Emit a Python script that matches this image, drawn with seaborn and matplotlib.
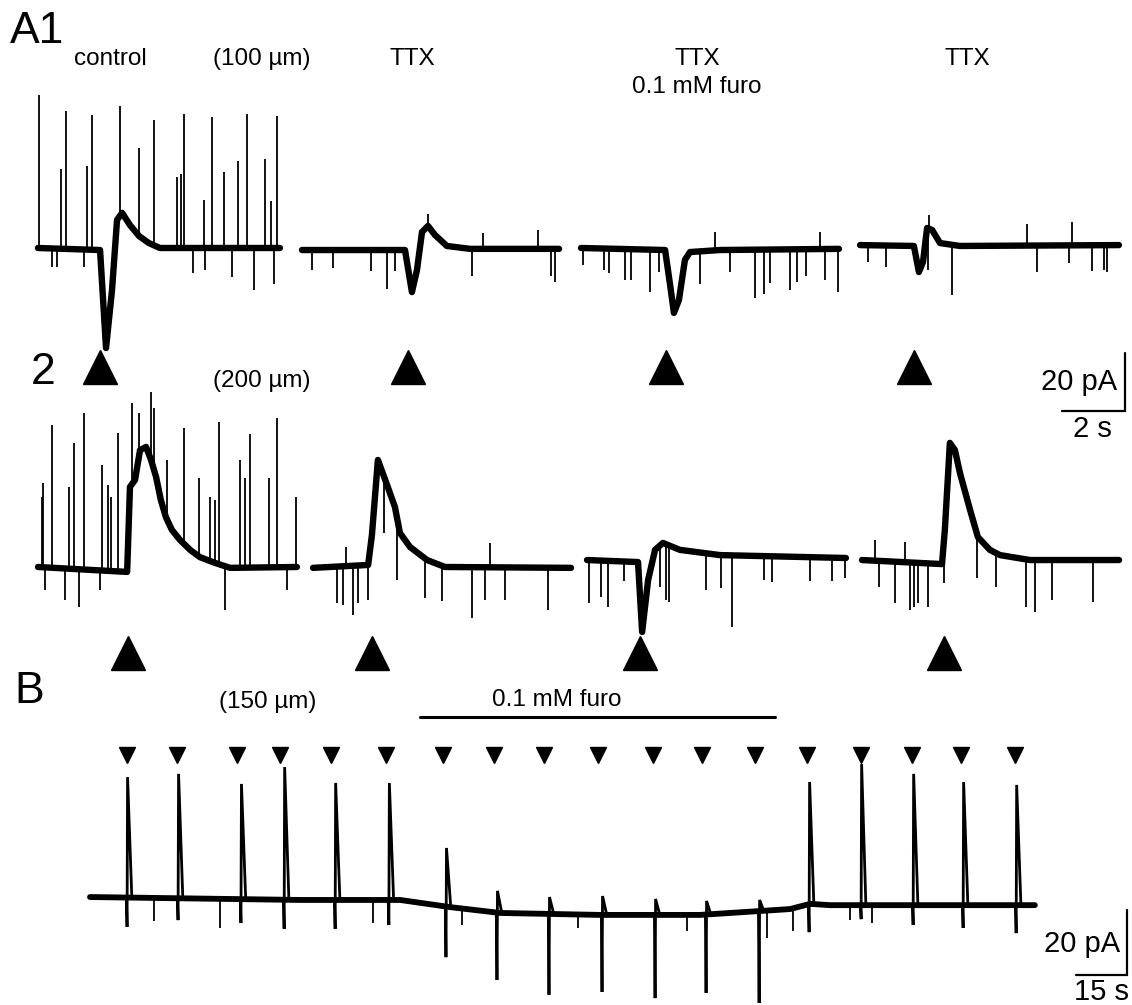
import numpy as np
import matplotlib
matplotlib.use("Agg")
import matplotlib.pyplot as plt
import seaborn as sns

sns.set_style("white")
plt.rcParams["font.family"] = ["Liberation Sans", "DejaVu Sans"]
plt.rcParams["text.color"] = "black"

# ---------------- DATA (time in s from sweep start, current in pA rel. baseline) ----
# A1 (100 µm) — slow component, upward spikes, downward spikes
a1_ctrl_slow = [(0, 0), (1.97, -0.7), (2.16, -34.5), (2.35, -14.5), (2.51, 9.7), (2.67, 12.1),
                (2.92, 7.9), (3.21, 4.1), (3.52, 1.7), (3.87, 0), (7.68, 0)]
a1_ctrl_up = [(0.02, 52.8), (0.73, 27.2), (0.89, 47.2), (1.56, 28.3), (1.71, 45.9), (2.60, 49.0),
              (3.21, 34.5), (3.68, 44.1), (4.41, 24.5), (4.54, 25.5), (4.63, 46.2), (5.27, 16.6),
              (5.52, 45.2), (5.90, 26.2), (6.35, 30.0), (6.63, 46.2), (7.21, 30.7), (7.40, 16.2),
              (7.59, 45.5)]
a1_ctrl_down = [(0.44, -6.6), (0.60, -6.6), (1.46, -6.6), (4.92, -8.6), (5.30, -7.6), (6.16, -10.0),
                (6.86, -14.5), (7.49, -12.4)]

a1_ttx_slow = [(0, -0.7), (3.27, -0.7), (3.49, -15.2), (3.65, -7.6), (3.81, 5.5), (4.0, 7.6),
               (4.22, 4.5), (4.60, 0.7), (5.33, -0.3), (8.16, -0.3)]
a1_ttx_up = [(4.0, 11.7), (5.75, 5.2), (7.49, 6.2)]
a1_ttx_down = [(0.32, -7.6), (0.98, -6.9), (2.19, -7.9), (2.70, -14.1), (2.95, -7.9), (5.40, -9.7),
               (7.90, -9.7), (8.03, -11.7)]

a1_furo_slow = [(0, 0), (2.67, -0.7), (2.83, -12.8), (2.95, -22.4), (3.11, -17.9), (3.30, -4.1),
                (3.46, -1.4), (4.41, -0.7), (8.19, -0.3)]
a1_furo_up = [(4.25, 5.5), (7.59, 5.5)]
a1_furo_down = [(0.06, -5.9), (0.73, -7.6), (0.89, -8.6), (1.40, -11.0), (1.59, -11.0), (2.19, -15.2),
                (2.48, -8.3), (3.78, -12.4), (4.73, -8.3), (5.52, -17.2), (5.81, -15.9), (6.0, -12.1),
                (6.63, -14.5), (6.86, -11.7), (7.14, -9.7), (7.75, -11.0), (8.16, -15.2)]

a1_wash_slow = [(0, 1.0), (1.71, 0.7), (1.87, -8.3), (2.0, -4.8), (2.13, 6.9), (2.29, 6.2),
                (2.54, 1.7), (3.17, 0.7), (8.22, 1.0)]
a1_wash_up = [(2.19, 11.4), (5.30, 8.3), (6.73, 9.0)]
a1_wash_down = [(0.25, -4.8), (0.83, -6.6), (2.16, -7.6), (2.92, -16.2), (5.62, -8.3), (6.63, -5.2),
                (7.37, -7.9), (7.75, -7.6), (7.84, -8.3)]

a1_stim = [1.97, 3.37, 2.70, 1.71]

# A2 (200 µm)
a2_ctrl_slow = [(0, 0), (2.83, -1.7), (2.92, 27.6), (3.08, 30.0), (3.24, 40.3), (3.43, 41.4),
                (3.59, 36.9), (3.75, 31.0), (3.90, 23.1), (4.06, 17.2), (4.25, 12.8), (4.51, 9.3),
                (4.83, 5.9), (5.14, 3.4), (5.62, 1.4), (6.10, -0.3), (8.22, 0)]
a2_ctrl_up = [(0.13, 24.1), (0.16, 29.0), (0.44, 49.0), (0.98, 27.6), (1.14, 42.8), (1.46, 53.1),
              (2.03, 35.2), (2.22, 28.3), (2.32, 24.1), (2.54, 46.2), (2.98, 56.6), (3.21, 53.1),
              (3.59, 60.3), (3.68, 54.8), (4.10, 36.9), (4.63, 47.9), (5.11, 30.7), (5.46, 24.1),
              (5.62, 23.1), (5.75, 50.0), (6.41, 36.9), (6.57, 30.7), (6.73, 45.9), (7.33, 30.7),
              (7.59, 51.4), (8.19, 24.1)]
a2_ctrl_down = [(0.22, -7.9), (0.86, -11.4), (1.30, -13.8), (1.97, -7.9), (5.94, -14.8), (7.90, -7.9)]

a2_ttx_slow = [(0, -0.3), (1.75, 0.7), (1.87, 11.0), (2.06, 36.9), (2.35, 28.3), (2.60, 20.7),
               (2.76, 11.7), (3.08, 6.9), (3.62, 2.4), (4.19, 0), (8.19, -0.3)]
a2_ttx_up = [(1.05, 6.9), (5.62, 8.3)]
a2_ttx_down = [(0.76, -12.4), (0.95, -13.1), (1.27, -16.6), (1.43, -12.4), (1.75, -11.4), (2.25, 11.7),
               (2.67, -4.5), (3.56, -10.7), (4.10, -11.7), (5.05, -17.6), (5.46, -11.4), (6.10, -11.4),
               (7.46, -14.8)]

a2_furo_slow = [(0, 2.4), (1.62, 1.7), (1.75, -22.4), (1.94, -4.5), (2.16, 5.9), (2.41, 8.3),
                (2.95, 5.9), (4.22, 4.1), (8.22, 3.1)]
a2_furo_up = []
a2_furo_down = [(0.06, -12.4), (0.44, -10.3), (0.67, -13.8), (1.17, -4.8), (2.32, -6.9), (2.51, -11.4),
                (2.60, -12.1), (3.78, -7.9), (4.25, -7.2), (4.60, -20.7), (5.62, -4.5), (5.87, -5.2),
                (7.08, -4.8), (7.78, -4.8), (8.19, -3.8)]

a2_wash_slow = [(0, 2.4), (2.54, 1.0), (2.63, 12.8), (2.79, 42.8), (2.95, 40.3), (3.11, 32.4),
                (3.43, 19.7), (3.68, 10.3), (4.06, 5.9), (4.38, 4.1), (5.33, 2.4), (8.16, 2.4)]
a2_wash_up = [(0.41, 9.3), (1.37, 8.6)]
a2_wash_down = [(0.54, -6.9), (1.05, -12.4), (1.52, -14.8), (1.65, -13.8), (1.78, -12.4), (2.10, -13.8),
                (2.60, -5.5), (3.65, -3.8), (4.25, -6.9), (5.21, -13.8), (5.49, -15.5), (6.03, -11.4),
                (7.33, -12.1)]

a2_stim = [2.86, 1.87, 1.68, 2.60]

# B (150 µm), time in s
b_baseline = [(0, 0.3), (61.8, -0.6), (91.2, -0.6), (105.9, -2.8), (120.6, -4.6), (150, -5.2),
              (179.4, -5.2), (197.1, -4.0), (205.9, -3.4), (211.8, -1.8), (217.6, -2.2), (277.9, -2.2)]
b_resp_t = [10.9, 25.9, 44.4, 57.1, 72.1, 87.9, 104.7, 119.7, 135.0, 150.6, 166.2, 181.2, 196.8,
            211.5, 226.8, 242.1, 256.8, 272.4]
b_resp_peak = [37.2, 38.2, 35.1, 40.3, 35.4, 35.4, 15.4, 2.2, 0.3, 0.6, -0.3, -0.9, -0.6,
               35.7, 41.2, 38.2, 35.7, 34.8]
b_resp_trough = [-8.9, -6.8, -7.7, -9.5, -9.5, -8.3, -18.2, -25.2, -29.8, -28.9, -30.8, -29.2, -32.3,
                 -10.5, -6.5, -8.3, -9.2, -10.8]
b_down = [(18.8, -7.1), (38.2, -9.2), (83.2, -7.7), (109.4, -8.3), (143.5, -9.2), (175.6, -10.2),
          (199.1, -12.3), (206.8, -10.2), (223.5, -6.8), (230.0, -7.7)]
b_stim = [10.9, 25.6, 43.2, 55.9, 70.9, 87.1, 103.8, 118.8, 133.5, 149.4, 165.6, 180.0, 195.6,
          210.9, 226.8, 241.8, 256.2, 272.1]
b_furo_start, b_furo_end = 97.1, 201.5

scale_A_pA, scale_A_s = 20, 2
scale_B_pA, scale_B_s = 20, 15

# ---------------- LAYOUT ----------------
W, H = 1132, 1005
fig = plt.figure(figsize=(W / 100, H / 100), dpi=100)


def add_ax(top_px, bottom_px, xlim, ylim):
    ax = fig.add_axes([0, 1 - bottom_px / H, 1, (bottom_px - top_px) / H])
    ax.set_xlim(*xlim)
    ax.set_ylim(*ylim)
    ax.set_axis_off()
    return ax


axA1 = add_ax(80, 390, (0, W / 31.5), (-48.97, 57.93))
axA2 = add_ax(390, 680, (0, W / 31.5), (-38.97, 61.03))
axB = add_ax(680, 1005, (0, W / 3.4), (-32.92, 67.08))

a1_offsets = [1.206, 9.587, 18.444, 27.302]
a2_offsets = [1.206, 9.937, 18.635, 27.365]
b_offset = 26.47

TRACE_LW = 4.6
SPIKE_LW = 1.3


def draw_trace(ax, t0, slow, up, down):
    st = np.array([p[0] for p in slow])
    si = np.array([p[1] for p in slow])
    sns.lineplot(x=st + t0, y=si, ax=ax, color="black", lw=TRACE_LW, sort=False,
                 estimator=None, legend=False)
    for spikes in (up, down):
        if not spikes:
            continue
        tt = np.array([p[0] for p in spikes])
        vv = np.array([p[1] for p in spikes])
        base = np.interp(tt, st, si)
        ax.vlines(tt + t0, base, vv, color="black", lw=SPIKE_LW, clip_on=False)


rowA1 = [(a1_ctrl_slow, a1_ctrl_up, a1_ctrl_down), (a1_ttx_slow, a1_ttx_up, a1_ttx_down),
         (a1_furo_slow, a1_furo_up, a1_furo_down), (a1_wash_slow, a1_wash_up, a1_wash_down)]
rowA2 = [(a2_ctrl_slow, a2_ctrl_up, a2_ctrl_down), (a2_ttx_slow, a2_ttx_up, a2_ttx_down),
         (a2_furo_slow, a2_furo_up, a2_furo_down), (a2_wash_slow, a2_wash_up, a2_wash_down)]

for off, (s, u, d) in zip(a1_offsets, rowA1):
    draw_trace(axA1, off, s, u, d)
for off, (s, u, d) in zip(a2_offsets, rowA2):
    draw_trace(axA2, off, s, u, d)

axA1.plot(np.array(a1_stim) + np.array(a1_offsets), [-41.0] * 4, ls="none", marker="^",
          ms=24, color="black", clip_on=False)
axA2.plot(np.array(a2_stim) + np.array(a2_offsets), [-29.7] * 4, ls="none", marker="^",
          ms=24, color="black", clip_on=False)

# B trace
bt = np.array([p[0] for p in b_baseline])
bi = np.array([p[1] for p in b_baseline])
sns.lineplot(x=bt + b_offset, y=bi, ax=axB, color="black", lw=4.2, sort=False,
             estimator=None, legend=False)
for t, pk, tr in zip(b_resp_t, b_resp_peak, b_resp_trough):
    base = np.interp(t, bt, bi)
    xs = np.array([t - 0.2, t, t + 0.15, t + 1.4]) + b_offset
    ys = [base, tr, pk, base]
    axB.plot(xs, ys, color="black", lw=2.0, clip_on=False, solid_joinstyle="miter")
dt = np.array([p[0] for p in b_down])
dv = np.array([p[1] for p in b_down])
axB.vlines(dt + b_offset, np.interp(dt, bt, bi), dv, color="black", lw=SPIKE_LW)
axB.plot(np.array(b_stim) + b_offset, [44.0] * len(b_stim), ls="none", marker="v", ms=12,
         color="black", clip_on=False)
axB.plot([b_furo_start + b_offset, b_furo_end + b_offset], [55.7, 55.7], color="black", lw=2.2)

# scale bars
axA2.plot([35.71 - scale_A_s, 35.71, 35.71], [53.8, 53.8, 53.8 + scale_A_pA], color="black",
          lw=1.6, clip_on=False, solid_joinstyle="miter")
axB.plot([331.5 - scale_B_s, 331.5, 331.5], [-23.7, -23.7, -23.7 + scale_B_pA], color="black",
         lw=1.6, clip_on=False, solid_joinstyle="miter")


def ftext(x, y, s, size, ha="center"):
    fig.text(x / W, 1 - y / H, s, fontsize=size, ha=ha, va="baseline", color="black")


LAB = 17.5
ftext(10, 43, "A1", 32, ha="left")
ftext(110, 65, "control", LAB)
ftext(262, 65, "(100 µm)", LAB)
ftext(412, 65, "TTX", LAB)
ftext(697, 65, "TTX", LAB)
ftext(697, 93, "0.1 mM furo", LAB)
ftext(967, 65, "TTX", LAB)
ftext(31, 384, "2", 32, ha="left")
ftext(262, 387, "(200 µm)", LAB)
ftext(14, 703, "B", 32, ha="left")
ftext(268, 708, "(150 µm)", LAB)
ftext(557, 706, "0.1 mM furo", LAB)
ftext(1117, 390, "20 pA", 21, ha="right")
ftext(1092, 437, "2 s", 21)
ftext(1120, 952, "20 pA", 21, ha="right")
ftext(1102, 1000, "15 s", 21)

fig.savefig("out.png", dpi=100, facecolor="white")
